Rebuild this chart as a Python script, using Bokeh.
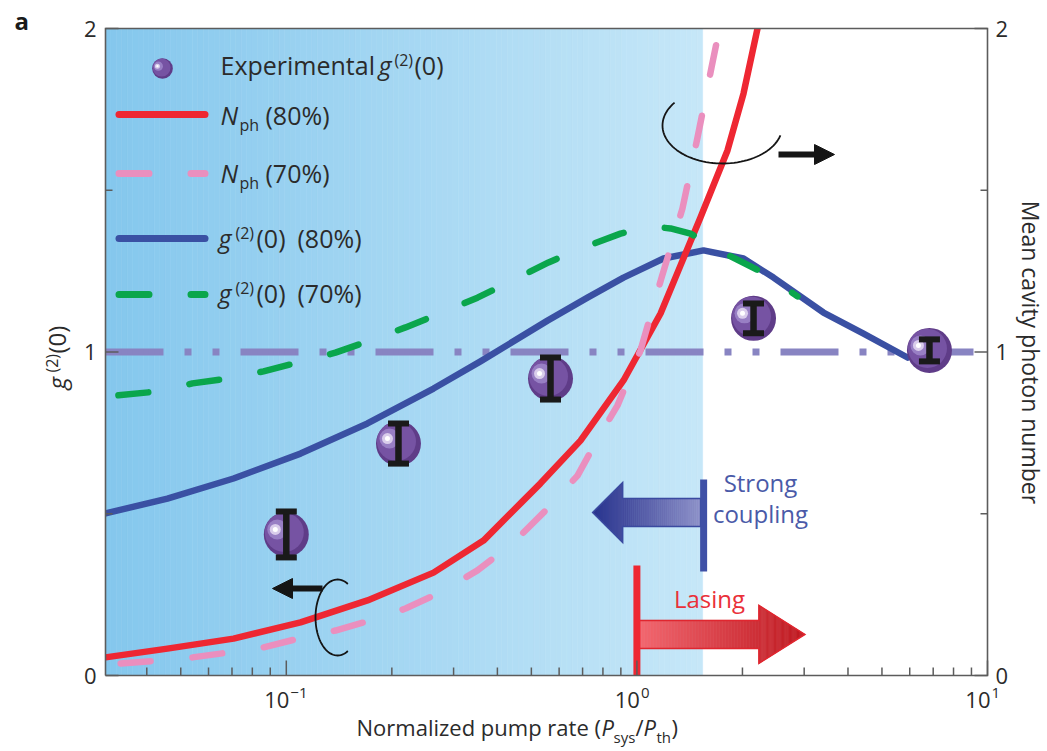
import math
from bokeh.plotting import figure
from bokeh.models import Range1d, Label, Arrow, NormalHead
from bokeh.embed import file_html
from bokeh.resources import INLINE

# ---------------- data ----------------
pump_nph80 = [0.0305, 0.0458, 0.0707, 0.1098, 0.1704, 0.263, 0.3651, 0.4656, 0.5309,
              0.6904, 0.9158, 1.168, 1.331, 1.518, 1.813, 2.014, 2.252]
nph80 = [0.056, 0.083, 0.114, 0.164, 0.232, 0.318, 0.417, 0.532, 0.594,
         0.726, 0.912, 1.119, 1.267, 1.416, 1.623, 1.799, 2.043]

pump_nph70 = [0.0337, 0.0429, 0.0540, 0.0684, 0.0861, 0.1083, 0.1381, 0.1738, 0.2188,
              0.2754, 0.3510, 0.4417, 0.5559, 0.6771, 0.7772, 0.8805, 1.024, 1.176,
              1.349, 1.489, 1.632, 1.720]
nph70 = [0.037, 0.046, 0.056, 0.071, 0.087, 0.114, 0.139, 0.170, 0.207,
         0.257, 0.325, 0.408, 0.516, 0.618, 0.736, 0.835, 1.005, 1.230,
         1.444, 1.663, 1.879, 2.000]

pump_g80 = [0.0305, 0.0458, 0.0707, 0.1098, 0.1704, 0.263, 0.358, 0.5559, 0.7228,
            0.9158, 1.191, 1.549, 2.014, 2.453, 3.405, 4.43, 5.913]
g80 = [0.501, 0.547, 0.609, 0.686, 0.779, 0.887, 0.971, 1.097, 1.168,
       1.230, 1.289, 1.314, 1.289, 1.230, 1.122, 1.057, 0.983]

pump_g70 = [0.0332, 0.0429, 0.0540, 0.0680, 0.0861, 0.1083, 0.1381, 0.1738, 0.2188,
            0.2790, 0.3510, 0.4417, 0.5597, 0.7041, 0.8979, 1.093, 1.247, 1.422,
            1.789, 2.281, 2.871]
g70 = [0.866, 0.878, 0.903, 0.918, 0.940, 0.968, 0.998, 1.036, 1.076,
       1.122, 1.168, 1.221, 1.277, 1.323, 1.366, 1.388, 1.382, 1.366,
       1.304, 1.246, 1.172]

exp_pump = [0.1, 0.2089, 0.567, 2.151, 6.83]
exp_g2 = [0.436, 0.717, 0.918, 1.104, 1.005]
exp_err = [0.071, 0.062, 0.065, 0.046, 0.034]

poisson_level = 1.0
lasing_threshold = 1.0
strong_coupling_limit = 1.55
shade_end = 1.54

x_major = [0.1, 1.0, 10.0]
x_major_exp = ["\u22121", "0", "1"]
x_minor = [0.04, 0.05, 0.06, 0.07, 0.08, 0.09, 0.2, 0.3, 0.4, 0.5, 0.6, 0.7, 0.8, 0.9,
           2, 3, 4, 5, 6, 7, 8, 9]
y_major = [0, 1, 2]
y_major_text = ["0", "1", "2"]
y_minor = [0.5, 1.5]

# ---------------- layout helpers ----------------
W, H = 1047, 751
FL, FR, FT, FB = 105, 987, 28, 675      # plot box in page pixels
X0, X1 = 0.0305, 10.0
Y0, Y1 = 0.0, 2.0
DEC = (FR - FL) / math.log10(X1 / X0)
YPX = (FB - FT) / (Y1 - Y0)


def dx(sx):
    return X0 * 10 ** ((sx - FL) / DEC)


def dy(sy):
    return Y0 + (FB - sy) / YPX


def sx_of(x):
    return FL + DEC * math.log10(x / X0)


def sy_of(y):
    return FB - (y - Y0) * YPX


def mix(c1, c2, t):
    return "#%02x%02x%02x" % tuple(int(round(a + (b - a) * t)) for a, b in zip(c1, c2))


FONT = "Open Sans"
TXT = "#2b2b2b"
AX = "#5c5c5c"
RED = "#ee2732"
PINK = "#ea8fbe"
BLUE = "#3a50a3"
GREEN = "#0aa64c"
LAV = "#8884c2"
SC_COL = "#4a5aa8"
LAS_COL = "#ea3039"

# the frame covers the whole page; the axes box is drawn by hand
p = figure(width=W, height=H, x_axis_type="log",
           x_range=Range1d(dx(0), dx(W)), y_range=Range1d(dy(H), dy(0)),
           x_axis_location=None, y_axis_location=None,
           output_backend="svg", toolbar_location=None,
           min_border=0, min_border_left=0, min_border_right=0,
           min_border_top=0, min_border_bottom=0,
           background_fill_color="white", border_fill_color="white",
           outline_line_color=None)
p.grid.visible = False

# ---------------- shaded strong-coupling region (gradient) ----------------
c_left, c_right = (132, 199, 237), (198, 231, 248)
n_strips = 110
s_end = sx_of(shade_end)
lefts, rights, cols = [], [], []
for i in range(n_strips):
    a = FL + (s_end - FL) * i / n_strips
    b = FL + (s_end - FL) * (i + 1) / n_strips
    lefts.append(dx(a))
    rights.append(dx(b))
    cols.append(mix(c_left, c_right, (i + 0.5) / n_strips))
p.quad(left=lefts, right=rights, bottom=Y0, top=Y1, fill_color=cols, line_color=cols,
       line_width=0.6)

# ---------------- Poisson level ----------------
p.line([X0, X1], [poisson_level, poisson_level], line_color=LAV, line_width=7,
       line_dash="58 21 7 21 7 21", line_cap="butt")

# ---------------- curves ----------------
p.line(pump_g80, g80, line_color=BLUE, line_width=6.5, line_join="round", line_cap="round")
p.line(pump_nph80, nph80, line_color=RED, line_width=6.5, line_join="round", line_cap="round")
p.line(pump_nph70, nph70, line_color=PINK, line_width=6.5, line_dash="30 42",
       line_cap="round", line_join="round")
p.line(pump_g70, g70, line_color=GREEN, line_width=6.5, line_dash="30 42",
       line_cap="round", line_join="round")

# white masks so nothing shows outside the plot box
p.quad(left=[dx(0)], right=[dx(W)], bottom=[Y1], top=[dy(0)], fill_color="white",
       line_color=None)
p.quad(left=[dx(0)], right=[X0], bottom=[dy(H)], top=[dy(0)], fill_color="white",
       line_color=None)


# ---------------- gradient arrows ----------------
def grad_arrow(base_px, cy_px, direction, d_head, d_tip, sh, hh, c0, c1, outline, n=40):
    xs, ys, cs = [], [], []

    def pt(d, h):
        return dx(base_px + direction * d), dy(cy_px - h)

    segs = []
    for i in range(n):
        a = d_head * i / n
        b = d_head * (i + 1) / n
        segs.append((a, b, sh, sh))
    for i in range(n):
        a = d_head + (d_tip - d_head) * i / n
        b = d_head + (d_tip - d_head) * (i + 1) / n
        ha = hh * (d_tip - a) / (d_tip - d_head)
        hb = hh * (d_tip - b) / (d_tip - d_head)
        segs.append((a, b, ha, hb))
    for a, b, ha, hb in segs:
        p1, p2, p3, p4 = pt(a, ha), pt(b, hb), pt(b, -hb), pt(a, -ha)
        xs.append([p1[0], p2[0], p3[0], p4[0]])
        ys.append([p1[1], p2[1], p3[1], p4[1]])
        cs.append(mix(c0, c1, ((a + b) / 2) / d_tip))
    p.patches(xs, ys, fill_color=cs, line_color=cs, line_width=0.6)
    outline_pts = [pt(0, sh), pt(d_head, sh), pt(d_head, hh), pt(d_tip, 0),
                   pt(d_head, -hh), pt(d_head, -sh), pt(0, -sh)]
    p.patch([q[0] for q in outline_pts], [q[1] for q in outline_pts],
            fill_color=None, line_color=outline, line_width=1.5, line_join="miter")


sc_px = sx_of(strong_coupling_limit)
grad_arrow(sc_px - 3, sy_of(0.504), -1, 78, 108, 14, 30,
           (143, 146, 201), (38, 48, 140), "#3a4aa0")
p.line([strong_coupling_limit] * 2, [dy(479), dy(571)], line_color="#3f50a6", line_width=7)

las_px = sx_of(lasing_threshold)
grad_arrow(las_px + 2, sy_of(0.127), 1, 120, 166, 14, 29,
           (242, 104, 112), (190, 24, 32), "#e0262f")
p.line([lasing_threshold] * 2, [Y0, dy(565)], line_color=RED, line_width=7)


# ---------------- black curved arrows ----------------
def arc(cx, cy, rx, ry, t0, t1, n=60):
    xs, ys = [], []
    for i in range(n + 1):
        t = math.radians(t0 + (t1 - t0) * i / n)
        xs.append(dx(cx + rx * math.cos(t)))
        ys.append(dy(cy - ry * math.sin(t)))
    return xs, ys


ax1, ay1 = arc(337, 617, 22, 38, 62, 298)
p.line(ax1, ay1, line_color="#151515", line_width=1.8)
p.add_layout(Arrow(end=NormalHead(size=20, fill_color="#151515", line_color="#151515",
                                  line_width=1),
                   x_start=dx(322), y_start=dy(588), x_end=dx(272), y_end=dy(588),
                   line_color="#151515", line_width=6))

ax2, ay2 = arc(722, 125, 60, 38, 143, 345)
p.line(ax2, ay2, line_color="#151515", line_width=1.8)
p.add_layout(Arrow(end=NormalHead(size=20, fill_color="#151515", line_color="#151515",
                                  line_width=1),
                   x_start=dx(778), y_start=dy(154), x_end=dx(834), y_end=dy(154),
                   line_color="#151515", line_width=6))


# ---------------- experimental points ----------------
def shifted(xv, yv, ox, oy):
    return [x * 10 ** (ox / DEC) for x in xv], [y - oy / YPX for y in yv]


def spheres(xv, yv, scale):
    p.scatter(xv, yv, size=45 * scale, fill_color="#5f3c88", line_color=None)
    x2, y2 = shifted(xv, yv, -2 * scale, -2 * scale)
    p.scatter(x2, y2, size=39 * scale, fill_color="#7653a3", line_color=None)
    x3, y3 = shifted(xv, yv, -9 * scale, -5 * scale)
    p.scatter(x3, y3, size=20 * scale, fill_color="#9c84c8", line_color=None, fill_alpha=0.9)
    x4, y4 = shifted(xv, yv, -11 * scale, -5 * scale)
    p.scatter(x4, y4, size=11 * scale, fill_color="#d9cdeb", line_color=None)
    p.scatter(x4, y4, size=5 * scale, fill_color="white", line_color=None)


spheres(exp_pump, exp_g2, 1.0)
lo = [y - e for y, e in zip(exp_g2, exp_err)]
hi = [y + e for y, e in zip(exp_g2, exp_err)]
p.segment(x0=exp_pump, y0=lo, x1=exp_pump, y1=hi, line_color="#1a1a1a", line_width=6.5)
p.scatter(exp_pump + exp_pump, lo + hi, marker="dash", size=21, line_color="#1a1a1a",
          line_width=6)

# ---------------- axes box and ticks ----------------
p.line([X0, X1, X1, X0, X0], [Y0, Y0, Y1, Y1, Y0], line_color=AX, line_width=1.6,
       line_join="miter")
p.segment(x0=x_major, y0=[Y0] * len(x_major), x1=x_major,
          y1=[dy(FB - 15)] * len(x_major), line_color=AX, line_width=1.5)
p.segment(x0=x_minor, y0=[Y0] * len(x_minor), x1=x_minor,
          y1=[dy(FB - 8)] * len(x_minor), line_color=AX, line_width=1.5)
for edge, inner_major, inner_minor in [(X0, dx(FL + 13), dx(FL + 7)),
                                       (X1, dx(FR - 13), dx(FR - 7))]:
    p.segment(x0=[edge] * len(y_major), y0=y_major, x1=[inner_major] * len(y_major),
              y1=y_major, line_color=AX, line_width=1.5)
    p.segment(x0=[edge] * len(y_minor), y0=y_minor, x1=[inner_minor] * len(y_minor),
              y1=y_minor, line_color=AX, line_width=1.5)


# ---------------- text helper ----------------
BASE_SHIFT = 0.42   # SVG alphabetic-baseline correction, in em


def T(sx, sy, text, size=25, style="normal", color=TXT, align="left",
      baseline="alphabetic", angle=0.0):
    if baseline == "alphabetic":
        s = BASE_SHIFT * size
        sx = sx - s * math.sin(angle)
        sy = sy - s * math.cos(angle)
    p.add_layout(Label(x=dx(sx), y=dy(sy), text=text, text_font=FONT,
                       text_font_size=f"{size}px", text_font_style=style,
                       text_color=color, text_align=align, text_baseline=baseline,
                       angle=angle))


# y tick labels (left and right)
for v, s in zip(y_major, y_major_text):
    T(FL - 9, sy_of(v), s, size=22, align="right", baseline="middle")
    T(FR + 8, sy_of(v), s, size=22, align="left", baseline="middle")

# x tick labels (10 with superscript exponent)
for xv, ex in zip(x_major, x_major_exp):
    px = sx_of(xv)
    T(px + 3, 709, "10", size=22, align="right")
    T(px + 4, 699, ex, size=15)

# ---------------- legend ----------------
spheres([dx(162)], [dy(68)], 0.46)
T(220, 75, "Experimental")
T(378, 75, "g", style="italic")
T(394, 66, "(2)", size=16)
T(414, 75, "(0)")

p.line([dx(118.5), dx(204.5)], [dy(114)] * 2, line_color=RED, line_width=7, line_cap="round")
T(220, 125, "N", style="italic")
T(239, 131, "ph", size=16)
T(265, 125, "(80%)")

p.line([dx(118.5), dx(204.5)], [dy(173)] * 2, line_color=PINK, line_width=7,
       line_cap="round", line_dash="30 42")
T(220, 183, "N", style="italic")
T(239, 189, "ph", size=16)
T(265, 183, "(70%)")

p.line([dx(118.5), dx(204.5)], [dy(238)] * 2, line_color=BLUE, line_width=7, line_cap="round")
T(218, 248, "g", style="italic")
T(235, 239, "(2)", size=16)
T(256, 248, "(0)")
T(297, 248, "(80%)")

p.line([dx(118.5), dx(204.5)], [dy(294)] * 2, line_color=GREEN, line_width=7,
       line_cap="round", line_dash="30 42")
T(218, 303, "g", style="italic")
T(235, 294, "(2)", size=16)
T(256, 303, "(0)")
T(297, 303, "(70%)")

# ---------------- annotation texts ----------------
T(760, 492, "Strong", size=24, color=SC_COL, align="center")
T(760, 523, "coupling", size=24, color=SC_COL, align="center")
T(709, 608, "Lasing", size=24, color=LAS_COL, align="center")
T(14, 30, "a", size=24, style="bold", color="#1a1a1a")

# x axis label
T(356, 736, "Normalized pump rate (", size=22)
T(601, 736, "P", size=22, style="italic")
T(613, 743, "sys", size=15)
T(635, 736, "/", size=22)
T(643, 736, "P", size=22, style="italic")
T(656, 743, "th", size=15)
T(671, 736, ")", size=22)

# left axis label (rotated)
half_pi = math.pi / 2
T(66, 389, "g", size=24, style="italic", angle=half_pi)
T(58, 372, "(2)", size=16, angle=half_pi)
T(66, 353, "(0)", size=24, angle=half_pi)

# right axis label
T(1030, 352, "Mean cavity photon number", size=23, align="center", baseline="middle",
  angle=-half_pi)

open("out.html", "w").write(file_html(p, INLINE))
